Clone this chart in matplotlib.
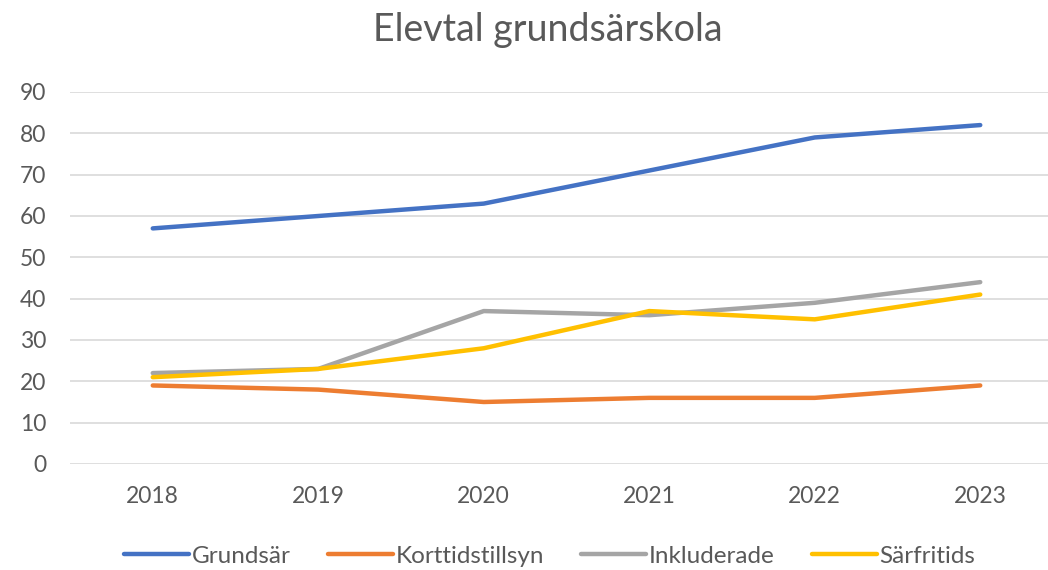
import matplotlib
matplotlib.use("Agg")
import matplotlib.pyplot as plt

years = ["2018", "2019", "2020", "2021", "2022", "2023"]
grundsar = [57, 60, 63, 71, 79, 82]
korttid = [19, 18, 15, 16, 16, 19]
inkluderade = [22, 23, 37, 36, 39, 44]
sarfritids = [21, 23, 28, 37, 35, 41]

series = [
    ("Grundsär", grundsar, "#4472C4"),
    ("Korttidstillsyn", korttid, "#ED7D31"),
    ("Inkluderade", inkluderade, "#A5A5A5"),
    ("Särfritids", sarfritids, "#FFC000"),
]

plt.rcParams['font.family'] = ['Lato', 'DejaVu Sans']
fig = plt.figure(figsize=(10.48, 5.70), dpi=100)
ax = fig.add_axes([70/1048, 1 - 464/570, (1063-70)/1048, (464-92)/570])

x = list(range(len(years)))
for name, vals, col in series:
    ax.plot(x, vals, color=col, lw=3.2, label=name, solid_capstyle='round')

ax.set_xlim(-0.5, 5.5)
ax.set_ylim(0, 90)
ax.set_yticks(range(0, 91, 10))
ax.set_xticks(x)
ax.set_xticklabels(years)
ax.grid(axis='y', color='#D9D9D9', lw=1.2)
ax.set_axisbelow(True)
for s in ax.spines.values():
    s.set_visible(False)
ax.tick_params(axis='both', length=0, labelsize=16.5, colors='#595959')
ax.tick_params(axis='y', pad=17)
ax.tick_params(axis='x', pad=16)

fig.text(548/1048, 1 - 30/570, "Elevtal grundsärskola", ha='center', va='center',
         fontsize=27, color='#595959')

fig.legend(loc='center', bbox_to_anchor=(550/1048, 1 - 556/570), ncol=4, frameon=False,
           fontsize=17.5, labelcolor='#595959', handlelength=2.67, handletextpad=0.12,
           columnspacing=1.52)

fig.savefig("out.png", dpi=100)
